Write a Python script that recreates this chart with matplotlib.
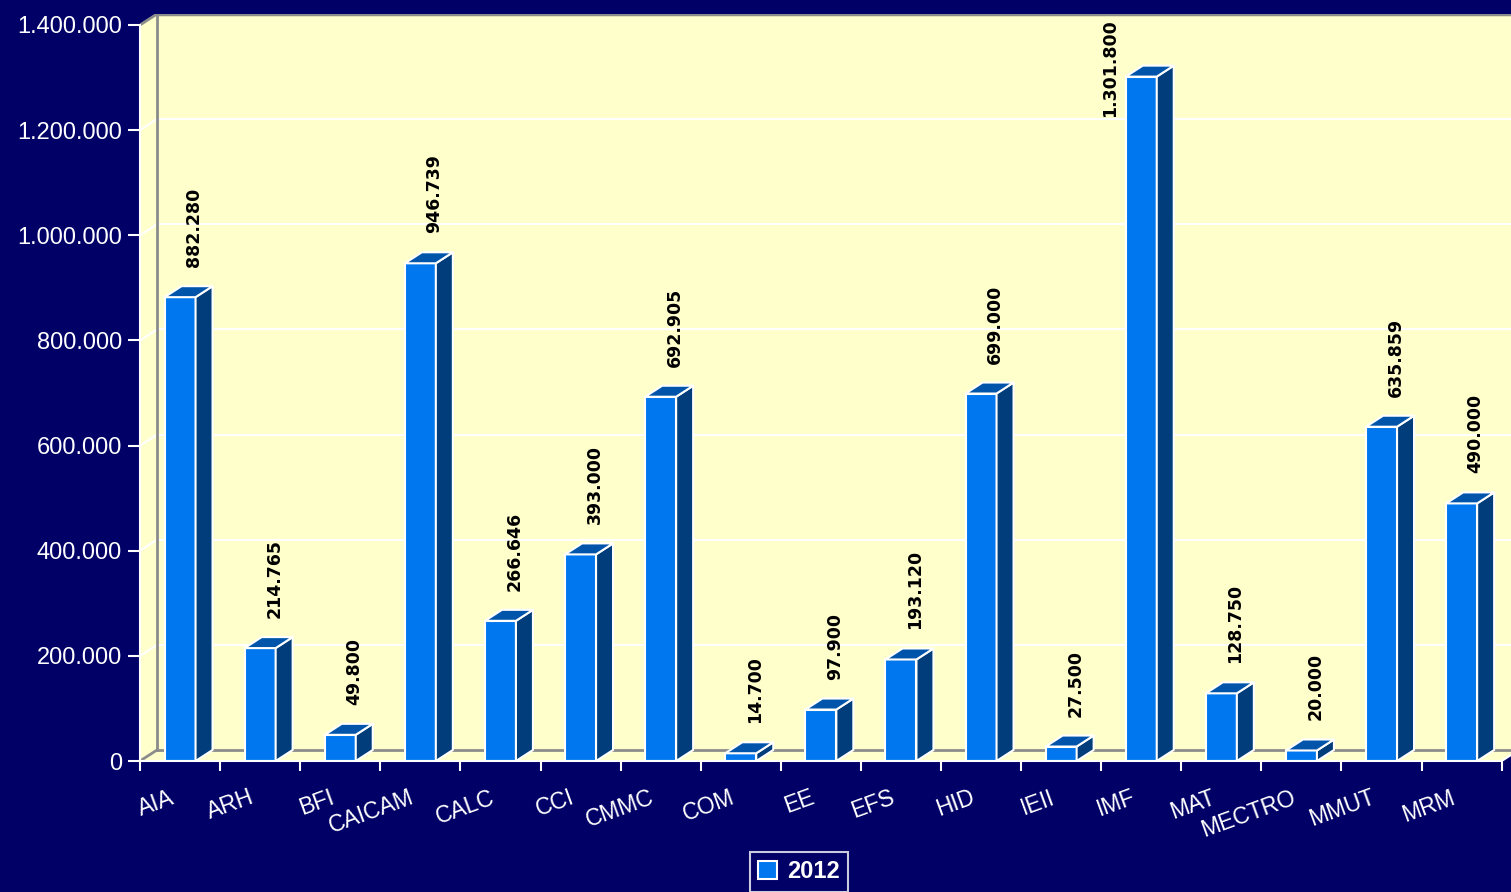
import matplotlib
matplotlib.use("Agg")
import matplotlib.pyplot as plt
from matplotlib.patches import Polygon, Rectangle
from matplotlib.ticker import FuncFormatter
import matplotlib.transforms as mtransforms

# data
categories = ["AIA", "ARH", "BFI", "CAICAM", "CALC", "CCI", "CMMC", "COM", "EE",
              "EFS", "HID", "IEII", "IMF", "MAT", "MECTRO", "MMUT", "MRM"]
values_2012 = [882280, 214765, 49800, 946739, 266646, 393000, 692905, 14700, 97900,
               193120, 699000, 27500, 1301800, 128750, 20000, 635859, 490000]
series_name = "2012"

NAVY = "#000066"
WALL = "#FFFFCC"
FRONT = "#0077EE"
SIDE = "#003D7A"
TOP = "#0055AA"
GRAY = "#8C8C8C"

def fmt(v):
    return f"{v:,.0f}".replace(",", ".")

fig = plt.figure(figsize=(15.11, 8.92), dpi=100, facecolor=NAVY)
ax = fig.add_axes([140 / 1511, 131 / 892, 1371 / 1511, 747 / 892])
ax.set_facecolor("none")

ymax_tick = 1400000
ax.set_xlim(-0.5, -0.5 + 1371 / 80.1)
ax.set_ylim(0, ymax_tick * 747 / 736)

# depth of the 3d effect, in data units
dx = 17 / 80.1
dy = 11 * ymax_tick / 736
n = len(categories)
x0, x1 = -0.5, n - 0.5

# walls and floor
ax.add_patch(Rectangle((x0 + dx, dy), x1 - x0 + 1, ymax_tick, facecolor=WALL,
                       edgecolor="none", zorder=0))
ax.add_patch(Polygon([(x0, 0), (x0 + dx, dy), (x0 + dx, ymax_tick + dy), (x0, ymax_tick)],
                     facecolor=WALL, edgecolor="none", zorder=0))
ax.add_patch(Polygon([(x0, 0), (x1, 0), (x1 + dx, dy), (x0 + dx, dy)],
                     facecolor=WALL, edgecolor="none", zorder=0))

# gridlines
yticks = list(range(0, ymax_tick + 1, 200000))
for t in yticks[1:-1]:
    ax.plot([x0 + dx, x1 + dx], [t + dy, t + dy], color="white", lw=1.5, zorder=1)
    ax.plot([x0, x0 + dx], [t, t + dy], color="white", lw=1.5, zorder=1)
ax.plot([x0 + dx, x1 + dx], [dy, dy], color=GRAY, lw=2, zorder=1)
ax.plot([x0 + dx, x1 + dx], [ymax_tick + dy] * 2, color=GRAY, lw=2.5, zorder=1)
ax.plot([x0 + dx, x0 + dx], [dy, ymax_tick + dy], color=GRAY, lw=2, zorder=1)
ax.plot([x0, x0 + dx], [0, dy], color=GRAY, lw=2, zorder=1)
ax.plot([x0, x0 + dx], [ymax_tick, ymax_tick + dy], color=GRAY, lw=2, zorder=1)
ax.plot([x1, x1 + dx], [0, dy], color="white", lw=1.5, zorder=1)

# bars
w = 31 / 80.1
px_per_val = 736 / ymax_tick
gap = 30 / px_per_val
ylim_top = ax.get_ylim()[1]
for i, v in enumerate(values_2012):
    l, r = i - w / 2, i + w / 2
    kw = dict(edgecolor="white", lw=1.5, joinstyle="round", zorder=2 + i)
    ax.add_patch(Polygon([(l, 0), (r, 0), (r, v), (l, v)], facecolor=FRONT, **kw))
    ax.add_patch(Polygon([(r, 0), (r + dx, dy), (r + dx, v + dy), (r, v)], facecolor=SIDE, **kw))
    ax.add_patch(Polygon([(l, v), (l + dx, v + dy), (r + dx, v + dy), (r, v)], facecolor=TOP, **kw))

    label = fmt(v)
    label_h = len(label) * 10.5 / px_per_val
    if v + gap + label_h > ylim_top:
        ax.text(i - 0.39, ymax_tick + dy / 2, label, rotation=90, ha="center", va="top",
                fontsize=12.5, fontweight="bold", family="DejaVu Sans", color="black",
                zorder=30)
    else:
        ax.text(i + 0.175, v + gap, label, rotation=90, ha="center", va="bottom",
                fontsize=12.5, fontweight="bold", family="DejaVu Sans", color="black",
                zorder=30)

# axes
for s in ["top", "right"]:
    ax.spines[s].set_visible(False)
for s in ["left", "bottom"]:
    ax.spines[s].set_color("white")
    ax.spines[s].set_linewidth(1.5)
    ax.spines[s].set_zorder(40)
ax.spines["left"].set_bounds(0, ymax_tick)
ax.spines["bottom"].set_bounds(x0, x1)

ax.set_yticks(yticks)
ax.yaxis.set_major_formatter(FuncFormatter(lambda v, p: fmt(v)))
ax.tick_params(axis="y", colors="white", length=9, width=1.5, pad=4, labelsize=17)
for lab in ax.get_yticklabels():
    lab.set_family("Liberation Sans")

ax.set_xticks([i - 0.5 for i in range(n + 1)], minor=True)
ax.set_xticks(range(n))
ax.set_xticklabels(categories, rotation=20, ha="right", rotation_mode="anchor",
                   family="Liberation Sans", fontsize=16.5, color="white")
ax.tick_params(axis="x", which="major", length=0, pad=18)
ax.tick_params(axis="x", which="minor", colors="white", length=7, width=1.5)
shift = mtransforms.ScaledTranslation(-11 / 100, 0, fig.dpi_scale_trans)
for lab in ax.get_xticklabels():
    lab.set_transform(lab.get_transform() + shift)

# legend
handle = Rectangle((0, 0), 1, 1, facecolor=FRONT, edgecolor="white", lw=1.5)
leg = fig.legend([handle], [series_name], loc="upper center",
                 bbox_to_anchor=(799 / 1511, 1 - 852 / 892), borderaxespad=0,
                 frameon=True, fancybox=False, facecolor=NAVY, edgecolor="white",
                 handlelength=0.8, handleheight=0.8, handletextpad=0.4,
                 borderpad=0.35, prop={"family": "Liberation Sans", "weight": "bold", "size": 17})
leg.get_frame().set_linewidth(1.5)
for t in leg.get_texts():
    t.set_color("white")

fig.savefig("out.png", dpi=100, facecolor=NAVY)
